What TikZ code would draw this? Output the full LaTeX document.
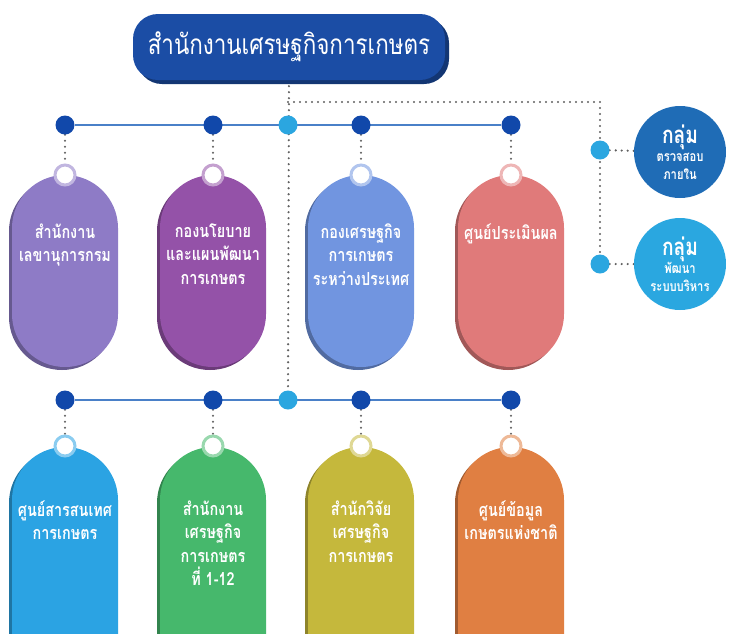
\documentclass[tikz,border=0pt]{standalone}
\usepackage{fontspec}
\newfontfamily\thai[Script=Thai, FakeStretch=0.8]{Loma}
\usetikzlibrary{positioning, backgrounds}

\definecolor{titleblue}{HTML}{1B4DA5}
\definecolor{hubdark}{HTML}{1148AA}
\definecolor{hublight}{HTML}{2BA6E0}
\definecolor{busblue}{HTML}{4A80C8}
\definecolor{dotgray}{HTML}{606060}
\definecolor{cA}{HTML}{8E7BC6}
\definecolor{cB}{HTML}{9452A8}
\definecolor{cC}{HTML}{7195E0}
\definecolor{cD}{HTML}{E07A7A}
\definecolor{cE}{HTML}{2BA3E3}
\definecolor{cF}{HTML}{46B86C}
\definecolor{cG}{HTML}{C5B83C}
\definecolor{cH}{HTML}{E07F42}
\definecolor{sideA}{HTML}{1F6CB6}
\definecolor{sideB}{HTML}{2AA7E0}

\begin{document}
\begin{tikzpicture}[x=1pt, y=-1pt,
    bus/.style={draw=busblue, line width=1.6pt},
    dots/.style={draw=dotgray, line width=2.4pt, line cap=round, dash pattern=on 0pt off 6pt},
    hub/.style={circle, fill=hubdark, minimum size=19pt, inner sep=0pt},
    hubl/.style={circle, fill=hublight, minimum size=19pt, inner sep=0pt},
    pill/.style={rectangle, rounded corners=53pt, minimum width=106pt, minimum height=#1, inner sep=0pt},
    shade/.style={fill=#1!72!black},
    ring/.style={circle, fill=white, draw=#1!55!white, line width=3pt, minimum size=20pt, inner sep=0pt},
    label/.style={text=white, align=center, anchor=north, font=\thai\bfseries\fontsize{18}{23.5}\selectfont},
    group/.style={circle, minimum size=92pt, inner sep=0pt, text=white, align=center, font=\thai\bfseries\fontsize{14}{18}\selectfont}
]
\clip (0,0) rectangle (731,633);
\useasboundingbox (0,0) rectangle (731,633);

% Define head
\node[rectangle, rounded corners=25pt, minimum width=312pt, minimum height=66pt, fill=titleblue!70!black] at (293,51) {};
\node[rectangle, rounded corners=25pt, minimum width=312pt, minimum height=66pt, fill=titleblue, text=white, font=\thai\fontsize{28}{30}\selectfont] (head) at (289,47) {สำนักงานเศรษฐกิจการเกษตร};

% Define hubs
\node[hub] (t1) at (65,125) {};
\node[hub] (t2) at (213,125) {};
\node[hubl] (t3) at (288,125) {};
\node[hub] (t4) at (361,125) {};
\node[hub] (t5) at (511,125) {};
\node[hub] (b1) at (65,400) {};
\node[hub] (b2) at (213,400) {};
\node[hubl] (b3) at (288,400) {};
\node[hub] (b4) at (361,400) {};
\node[hub] (b5) at (511,400) {};

\coordinate (j1) at (288,102);
\coordinate (j2) at (600,102);
\node[hubl] (s1) at (600,150) {};
\node[hubl] (s2) at (600,264) {};

% Define side groups
\node[group, fill=sideA] (g1) at (680,152) {{\fontsize{24}{24}\selectfont กลุ่ม}\\ตรวจสอบ\\ภายใน};
\node[group, fill=sideB] (g2) at (680,264) {{\fontsize{24}{24}\selectfont กลุ่ม}\\พัฒนา\\ระบบบริหาร};

% Define upper pills
\node[pill=192pt, shade=cA] at (62,274) {};
\node[pill=192pt, fill=cA] (p1) at (65,271) {};
\node[pill=192pt, shade=cB] at (210,274) {};
\node[pill=192pt, fill=cB] (p2) at (213,271) {};
\node[pill=192pt, shade=cC] at (358,274) {};
\node[pill=192pt, fill=cC] (p3) at (361,271) {};
\node[pill=192pt, shade=cD] at (508,274) {};
\node[pill=192pt, fill=cD] (p4) at (511,271) {};

% Define lower pills
\node[pill=250pt, shade=cE] at (62,575) {};
\node[pill=250pt, fill=cE] (p5) at (65,572) {};
\node[pill=250pt, shade=cF] at (210,575) {};
\node[pill=250pt, fill=cF] (p6) at (213,572) {};
\node[pill=250pt, shade=cG] at (358,575) {};
\node[pill=250pt, fill=cG] (p7) at (361,572) {};
\node[pill=250pt, shade=cH] at (508,575) {};
\node[pill=250pt, fill=cH] (p8) at (511,572) {};

% Define rings
\node[ring=cA] (r1) at (65,175) {};
\node[ring=cB] (r2) at (213,175) {};
\node[ring=cC] (r3) at (361,175) {};
\node[ring=cD] (r4) at (511,175) {};
\node[ring=cE] (r5) at (65,446) {};
\node[ring=cF] (r6) at (213,446) {};
\node[ring=cG] (r7) at (361,446) {};
\node[ring=cH] (r8) at (511,446) {};

% Define texts
\node[label] (l1) at (65,220) {สำนักงาน\\เลขานุการกรม};
\node[label] (l2) at (213,220) {กองนโยบาย\\และแผนพัฒนา\\การเกษตร};
\node[label] (l3) at (361,220) {กองเศรษฐกิจ\\การเกษตร\\ระหว่างประเทศ};
\node[label] (l4) at (511,220) {ศูนย์ประเมินผล};
\node[label] (l5) at (65,497) {ศูนย์สารสนเทศ\\การเกษตร};
\node[label] (l6) at (213,497) {สำนักงาน\\เศรษฐกิจ\\การเกษตร\\ที่ 1-12};
\node[label] (l7) at (361,497) {สำนักวิจัย\\เศรษฐกิจ\\การเกษตร};
\node[label] (l8) at (511,497) {ศูนย์ข้อมูล\\เกษตรแห่งชาติ};

% Define connectors
\begin{scope}[on background layer]
\path[dots] (head.south) -- (b3.north);
\path[dots] (j1) -- (j2) -- (s2.north);
\path[dots] (s1) -- (g1);
\path[dots] (s2) -- (g2);
\path[bus] (t1) -- (t5);
\path[bus] (b1) -- (b5);
\path[dots] (t1) -- (r1);
\path[dots] (t2) -- (r2);
\path[dots] (t4) -- (r3);
\path[dots] (t5) -- (r4);
\path[dots] (b1) -- (r5);
\path[dots] (b2) -- (r6);
\path[dots] (b4) -- (r7);
\path[dots] (b5) -- (r8);
\end{scope}

\end{tikzpicture}
\end{document}
